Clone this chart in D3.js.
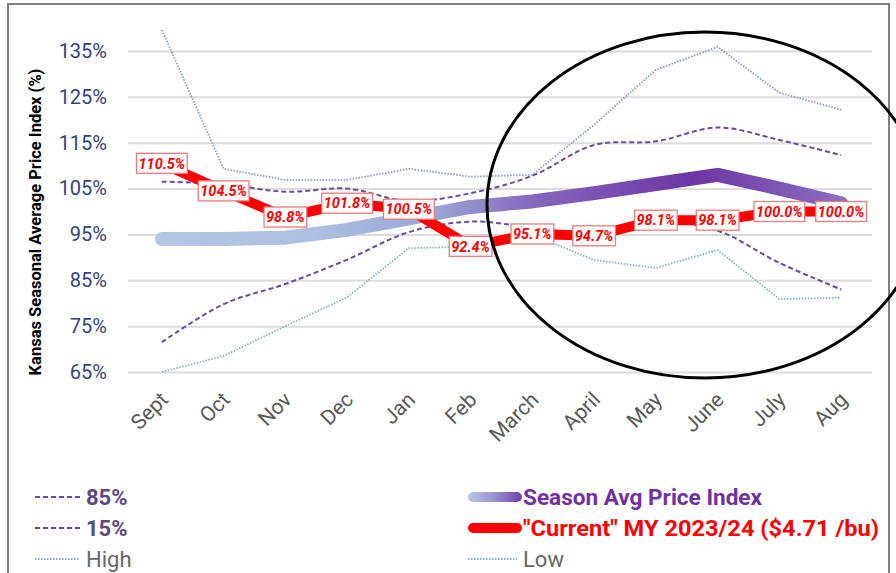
<!DOCTYPE html>
<html>
<head>
<meta charset="utf-8">
<script src="https://cdn.jsdelivr.net/npm/d3@7"></script>
<style>
  html, body { margin: 0; padding: 0; background: #fff; }
  svg { display: block; font-family: Roboto, "Noto Sans", sans-serif; }
</style>
</head>
<body>
<svg id="chart" width="896" height="573"></svg>
<script>
// Kansas seasonal average price index by month of the marketing year
const months = ["Sept", "Oct", "Nov", "Dec", "Jan", "Feb", "March", "April", "May", "June", "July", "Aug"];
const yTicks = [65, 75, 85, 95, 105, 115, 125, 135];

const seasonAvg = [94, 94, 94.3, 96, 98.5, 101, 102.2, 104, 106, 108, 105, 101.8];
const current   = [110.5, 104.5, 98.8, 101.8, 100.5, 92.4, 95.1, 94.7, 98.1, 98.1, 100.0, 100.0];
const pct85     = [106.5, 106, 104.3, 105, 102.3, 104, 107.8, 114.5, 115.3, 118.3, 115.6, 112.3];
const pct15     = [71.5, 79.8, 84.2, 89.5, 95.5, 97.8, 96.5, 95.2, 97.8, 95.8, 88.8, 83];
const high      = [139.6, 109.3, 106.9, 106.9, 109.3, 107.6, 108, 118.9, 130.9, 135.9, 125.9, 122.2];
const low       = [65, 68.5, 75, 81.3, 92, 92.3, 95, 89.4, 87.7, 91.6, 80.9, 81.2];

const currentLabel = "\"Current\" MY 2023/24 ($4.71 /bu)";

const svg = d3.select("#chart");
const plotLeft = 128, plotRight = 872, plotTop = 51, plotBottom = 372;

const x = d3.scalePoint().domain(months).range([plotLeft + 3, plotRight]).padding(0.5);
const y = d3.scaleLinear().domain([65, 135]).range([plotBottom, plotTop]);

// outer chart frame
svg.append("rect")
  .attr("x", 8).attr("y", 4).attr("width", 881).attr("height", 590)
  .attr("fill", "none").attr("stroke", "#808080").attr("stroke-width", 2);

// y axis with gridlines
const yAxis = svg.append("g")
  .attr("transform", `translate(${plotLeft},0)`)
  .call(d3.axisLeft(y).tickValues(yTicks).tickFormat(d => d + "%")
    .tickSize(-(plotRight - plotLeft)).tickPadding(21));
yAxis.select(".domain").remove();
yAxis.selectAll(".tick line").attr("stroke", "#dcdcdc").attr("stroke-width", 2);
yAxis.selectAll(".tick text")
  .attr("fill", "#34437a").attr("font-size", 20).attr("font-family", "Roboto");

// x axis, rotated month labels
const xAxis = svg.append("g")
  .attr("transform", `translate(0,${plotBottom})`)
  .call(d3.axisBottom(x).tickSize(0));
xAxis.select(".domain").remove();
xAxis.selectAll(".tick text")
  .attr("y", 0).attr("dy", 0).attr("x", 0)
  .attr("text-anchor", "end")
  .attr("transform", "translate(7,29) rotate(-45)")
  .attr("fill", "#595959").attr("font-size", 21).attr("font-family", "Roboto");

// y axis title
svg.append("text")
  .attr("transform", "translate(41,222) rotate(-90)")
  .attr("text-anchor", "middle")
  .attr("font-size", 16.5).attr("font-weight", "bold").attr("fill", "#000")
  .text("Kansas Seasonal Average Price Index (%)");

// gradients for the season average band and its legend swatch
const defs = svg.append("defs");
const grad = defs.append("linearGradient").attr("id", "avgGrad")
  .attr("gradientUnits", "userSpaceOnUse")
  .attr("x1", x("Sept")).attr("x2", x("Aug")).attr("y1", 0).attr("y2", 0);
[[0, "#b3c6e3"], [0.22, "#adc0e0"], [0.4, "#9aa6d6"], [0.55, "#8566bc"], [0.78, "#6b36a3"], [1, "#8c6cc2"]]
  .forEach(([o, c]) => grad.append("stop").attr("offset", o).attr("stop-color", c));
const legGrad = defs.append("linearGradient").attr("id", "legGrad")
  .attr("gradientUnits", "userSpaceOnUse")
  .attr("x1", 468).attr("x2", 522).attr("y1", 0).attr("y2", 0);
[[0, "#bcc8e8"], [0.5, "#9b8fd0"], [1, "#6e42a8"]]
  .forEach(([o, c]) => legGrad.append("stop").attr("offset", o).attr("stop-color", c));

const lineOf = (vals, curve) => d3.line()
  .x((d, i) => x(months[i])).y(d => y(d)).curve(curve)(vals);

// season average band
svg.append("path")
  .attr("d", lineOf(seasonAvg, d3.curveLinear))
  .attr("fill", "none").attr("stroke", "url(#avgGrad)")
  .attr("stroke-width", 14).attr("stroke-linecap", "round").attr("stroke-linejoin", "round");

// high / low range (dotted)
svg.append("path")
  .attr("d", lineOf(high, d3.curveLinear))
  .attr("fill", "none").attr("stroke", "#8a9cc0")
  .attr("stroke-width", 1.8).attr("stroke-dasharray", "1.5,1.5");
svg.append("path")
  .attr("d", lineOf(low, d3.curveLinear))
  .attr("fill", "none").attr("stroke", "#7fb5c2")
  .attr("stroke-width", 1.8).attr("stroke-dasharray", "1.5,1.5");

// 85th / 15th percentile (dashed)
[pct85, pct15].forEach(vals => {
  svg.append("path")
    .attr("d", lineOf(vals, d3.curveCatmullRom))
    .attr("fill", "none").attr("stroke", "#6a4b9e")
    .attr("stroke-width", 2).attr("stroke-dasharray", "5,3");
});

// current marketing year
svg.append("path")
  .attr("d", lineOf(current, d3.curveLinear))
  .attr("fill", "none").attr("stroke", "#ff0000")
  .attr("stroke-width", 10).attr("stroke-linejoin", "miter");

// value labels on the current line
const labels = svg.append("g");
current.forEach((v, i) => {
  const g = labels.append("g").attr("transform", `translate(${x(months[i])},${y(v)})`);
  const rect = g.append("rect").attr("fill", "#fff").attr("stroke", "#ec7b7d").attr("stroke-width", 1.3);
  const t = g.append("text")
    .attr("text-anchor", "middle").attr("dy", "0.36em")
    .attr("font-size", 14.5).attr("font-weight", "bold").attr("font-style", "italic")
    .attr("fill", "#ff0000")
    .text(v.toFixed(1) + "%");
  const w = t.node().getComputedTextLength() + 4;
  rect.attr("x", -w / 2).attr("y", -10).attr("width", w).attr("height", 20);
});

// legend
const legend = svg.append("g");
const legRows = [497, 528, 559];
// left column
[["85%", "5,3", "#6a4b9e", "#5a4a86", "bold", 2],
 ["15%", "5,3", "#6a4b9e", "#5a4a86", "bold", 2],
 ["High", "1.5,1.5", "#8aa7d6", "#666", "normal", 1.8]].forEach(([txt, dash, col, tcol, fw, sw], i) => {
  legend.append("line")
    .attr("x1", 35).attr("x2", 80).attr("y1", legRows[i]).attr("y2", legRows[i])
    .attr("stroke", col).attr("stroke-width", sw).attr("stroke-dasharray", dash);
  legend.append("text")
    .attr("x", 86).attr("y", legRows[i]).attr("dy", "0.36em")
    .attr("font-size", 22).attr("font-weight", fw).attr("fill", tcol)
    .text(txt);
});
// right column
legend.append("line")
  .attr("x1", 473).attr("x2", 517).attr("y1", legRows[0]).attr("y2", legRows[0])
  .attr("stroke", "url(#legGrad)").attr("stroke-width", 10).attr("stroke-linecap", "round");
legend.append("text")
  .attr("x", 523).attr("y", legRows[0]).attr("dy", "0.36em")
  .attr("font-size", 22.5).attr("font-weight", "bold").attr("fill", "#7032a0")
  .attr("textLength", 239).attr("lengthAdjust", "spacingAndGlyphs")
  .text("Season Avg Price Index");
legend.append("line")
  .attr("x1", 473).attr("x2", 517).attr("y1", legRows[1]).attr("y2", legRows[1])
  .attr("stroke", "#ff0000").attr("stroke-width", 10).attr("stroke-linecap", "round");
legend.append("text")
  .attr("x", 523).attr("y", legRows[1]).attr("dy", "0.36em")
  .attr("font-size", 22.5).attr("font-weight", "bold").attr("fill", "#ff0000")
  .attr("textLength", 356).attr("lengthAdjust", "spacingAndGlyphs")
  .text(currentLabel);
legend.append("line")
  .attr("x1", 468).attr("x2", 517).attr("y1", legRows[2]).attr("y2", legRows[2])
  .attr("stroke", "#7fb5c2").attr("stroke-width", 1.8).attr("stroke-dasharray", "1.5,1.5");
legend.append("text")
  .attr("x", 523).attr("y", legRows[2]).attr("dy", "0.36em")
  .attr("font-size", 22).attr("fill", "#666")
  .text("Low");

// highlight ellipse around the spring/summer months
svg.append("ellipse")
  .attr("cx", 705).attr("cy", 205).attr("rx", 218).attr("ry", 173)
  .attr("fill", "none").attr("stroke", "#000").attr("stroke-width", 3);
</script>
</body>
</html>
